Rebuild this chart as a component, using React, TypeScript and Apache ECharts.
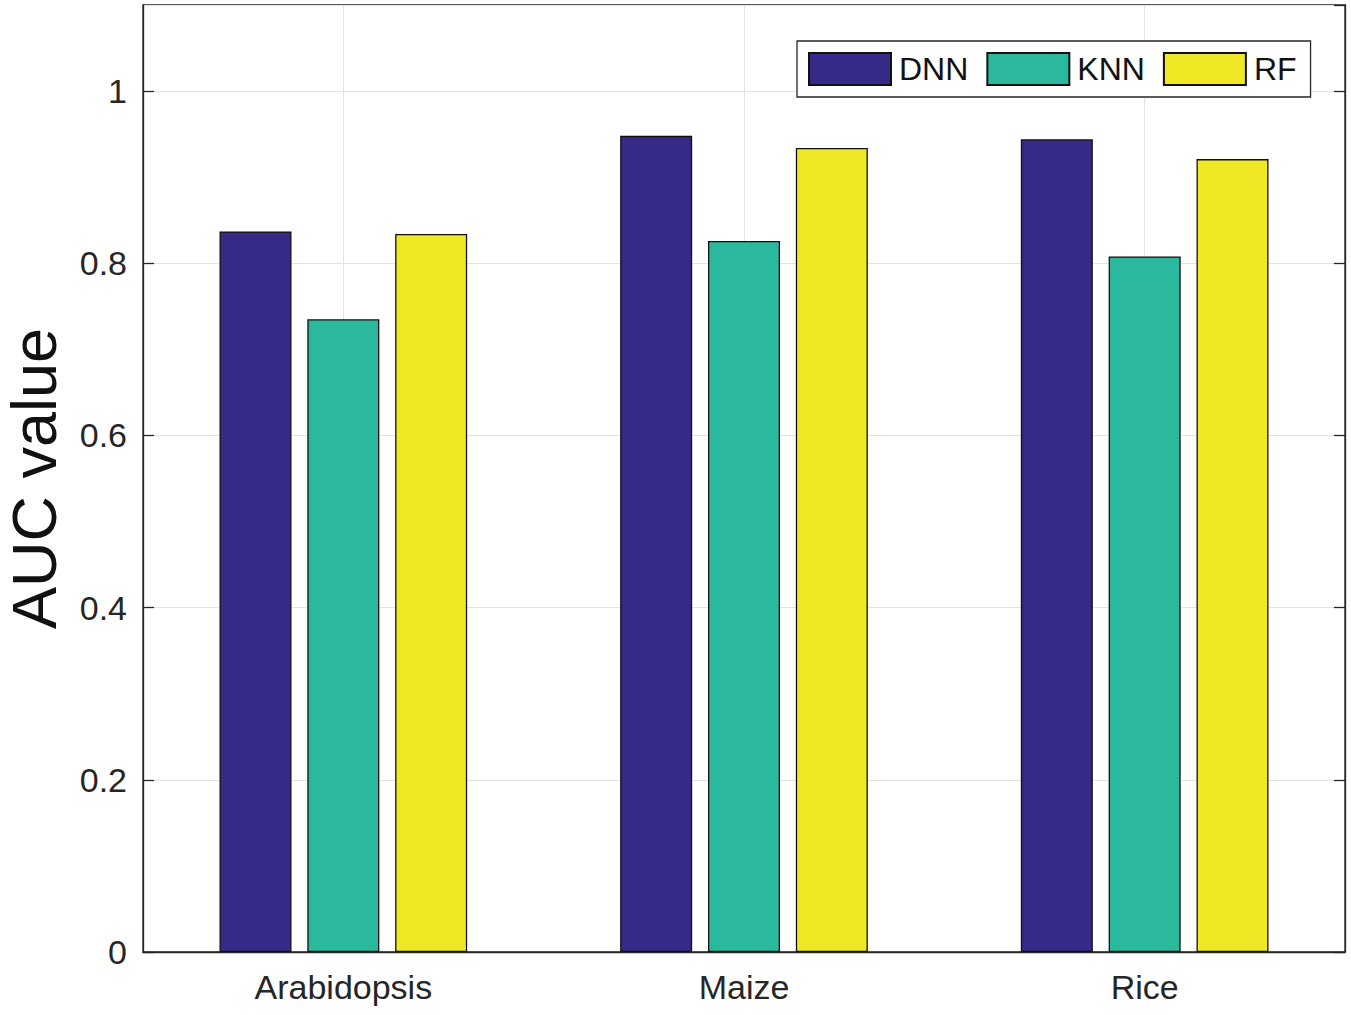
import React, { useEffect, useRef } from "react";
import * as echarts from "echarts";

const categories = ["Arabidopsis", "Maize", "Rice"];
const seriesNames = ["DNN", "KNN", "RF"];
const dnnValues = [0.837, 0.948, 0.944];
const knnValues = [0.735, 0.826, 0.808];
const rfValues = [0.834, 0.934, 0.921];
const seriesColors = ["#352a87", "#2bb99d", "#f0e824"];
const yMin = 0;
const yMax = 1.1;
const yInterval = 0.2;

const FONT = '"Liberation Sans", Arial, Helvetica, sans-serif';
const AXIS_COLOR = "#262626";
const GRID_COLOR = "#e3e3e3";

export default function App() {
  const ref = useRef<HTMLDivElement>(null);

  useEffect(() => {
    if (!ref.current) return;
    const chart = echarts.init(ref.current, undefined, { renderer: "svg" });
    const values = [dnnValues, knnValues, rfValues];

    const barSeries = seriesNames.map((name, i) => ({
      name,
      type: "bar",
      data: values[i],
      barWidth: 72,
      barGap: "22%",
      z: 3,
      itemStyle: {
        color: seriesColors[i],
        borderColor: "#111111",
        borderWidth: 1.3,
      },
    }));

    chart.setOption({
      animation: false,
      textStyle: { fontFamily: FONT },
      grid: {
        left: 143,
        right: 6,
        top: 5,
        bottom: 63,
        containLabel: false,
        outerBoundsMode: "none",
        show: true,
        borderColor: AXIS_COLOR,
        borderWidth: 1.3,
        backgroundColor: "transparent",
      },
      legend: {
        data: seriesNames,
        left: 797,
        top: 41,
        orient: "horizontal",
        icon: "rect",
        itemWidth: 82,
        itemHeight: 32,
        itemGap: 18,
        padding: [11, 14, 11, 11],
        borderColor: AXIS_COLOR,
        borderWidth: 1.3,
        backgroundColor: "#ffffff",
        selectedMode: false,
        textStyle: {
          fontFamily: FONT,
          fontSize: 32,
          color: "#111111",
          padding: [0, 0, 0, 3],
        },
      },
      xAxis: [
        {
          type: "category",
          data: categories,
          boundaryGap: true,
          axisLine: { show: true, lineStyle: { color: AXIS_COLOR, width: 1.3 } },
          axisTick: { show: false },
          axisLabel: {
            fontFamily: FONT,
            fontSize: 34,
            color: AXIS_COLOR,
            margin: 18,
          },
          splitLine: { show: false },
        },
      ],
      yAxis: [
        {
          type: "value",
          min: yMin,
          max: yMax,
          interval: yInterval,
          name: "AUC value",
          nameLocation: "middle",
          nameGap: 78,
          nameTextStyle: {
            fontFamily: FONT,
            fontSize: 63,
            color: "#111111",
          },
          axisLine: { show: true, lineStyle: { color: AXIS_COLOR, width: 1.3 } },
          axisTick: {
            show: true,
            inside: true,
            length: 11,
            lineStyle: { color: AXIS_COLOR, width: 1.3 },
          },
          axisLabel: {
            fontFamily: FONT,
            fontSize: 34,
            color: AXIS_COLOR,
            margin: 16,
            showMaxLabel: false,
          },
          splitLine: { show: true, lineStyle: { color: GRID_COLOR, width: 1 } },
        },
        {
          type: "value",
          position: "right",
          min: yMin,
          max: yMax,
          interval: yInterval,
          axisLine: { show: true, lineStyle: { color: AXIS_COLOR, width: 1.3 } },
          axisTick: {
            show: true,
            inside: true,
            length: 11,
            lineStyle: { color: AXIS_COLOR, width: 1.3 },
          },
          axisLabel: { show: false },
          splitLine: { show: false },
        },
      ],
      series: [
        {
          name: "vgrid",
          type: "line",
          data: [],
          z: 1,
          silent: true,
          markLine: {
            silent: true,
            z: 1,
            symbol: ["none", "none"],
            label: { show: false },
            lineStyle: { color: GRID_COLOR, width: 1, type: "solid" },
            data: categories.map((c) => ({ xAxis: c })),
          },
        },
        ...barSeries,
      ],
    });

    return () => {
      chart.dispose();
    };
  }, []);

  return (
    <div
      ref={ref}
      style={{
        position: "absolute",
        left: 0,
        top: 0,
        width: 1351,
        height: 1015,
        background: "#ffffff",
      }}
    />
  );
}
